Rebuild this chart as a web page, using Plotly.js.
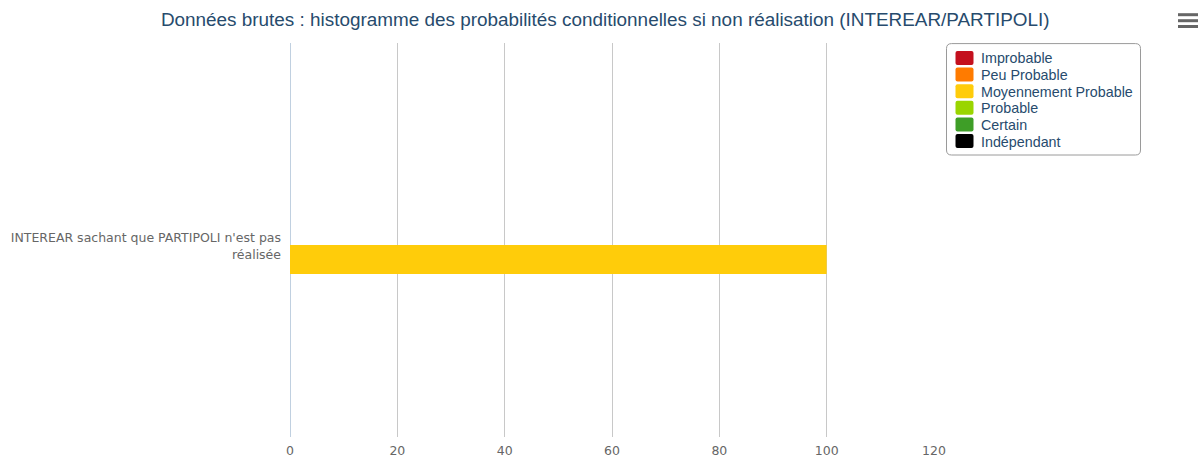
<!DOCTYPE html>
<html>
<head>
<meta charset="utf-8">
<script src="https://cdn.plot.ly/plotly-3.0.1.min.js"></script>
<style>html,body{margin:0;padding:0;background:#fff;}#chart{width:1202px;height:461px;}</style>
</head>
<body>
<div id="chart"></div>
<script>
// ---- data ----
const categories = ["INTEREAR sachant que PARTIPOLI n'est pas<br>réalisée"];
const seriesNames = ["Improbable", "Peu Probable", "Moyennement Probable", "Probable", "Certain", "Indépendant"];
const improbable = [0];
const peuProbable = [0];
const moyennementProbable = [100];
const probable = [0];
const certain = [0];
const independant = [0];
const xTickVals = [0, 20, 40, 60, 80, 100, 120];
const xTickText = ["0", "20", "40", "60", "80", "100", "120"];
const titleText = "Données brutes : histogramme des probabilités conditionnelles si non réalisation (INTEREAR/PARTIPOLI)";

// ---- styles ----
const colors = ["#C4101E", "#FF7B00", "#FFCC0A", "#9AD500", "#3E9E27", "#000000"];
const values = [improbable, peuProbable, moyennementProbable, probable, certain, independant];

const traces = seriesNames.map((name, i) => ({
  type: 'bar',
  orientation: 'h',
  name: name,
  y: categories,
  x: values[i],
  marker: {color: colors[i], line: {width: 0}},
  hoverinfo: 'x+name',
  showlegend: false
}));

const W = 1202, H = 461;
const L = 290, R = 934, T = 43, B = 437;
const pw = R - L, ph = B - T;
const px = v => (v - L) / pw;
const py = v => (B - v) / ph;

const shapes = [
  // rounded legend box
  {type: 'path', xref: 'paper', yref: 'paper', xsizemode: 'pixel', ysizemode: 'pixel',
   xanchor: px(1043.5), yanchor: py(99.3),
   path: 'M -92,-55.7 H 92 Q 97,-55.7 97,-50.7 V 50.7 Q 97,55.7 92,55.7 H -92 Q -97,55.7 -97,50.7 V -50.7 Q -97,-55.7 -92,-55.7 Z',
   line: {color: '#9a9a9a', width: 1}, fillcolor: '#ffffff', layer: 'below'}
];
const annotations = [];
// custom legend: swatches + labels
seriesNames.forEach((name, i) => {
  const cy = 58 + 16.6 * i;
  shapes.push({type: 'path', xref: 'paper', yref: 'paper', xsizemode: 'pixel', ysizemode: 'pixel',
    xanchor: px(964.5), yanchor: py(cy),
    path: 'M -7,-7 H 7 Q 9,-7 9,-5 V 5 Q 9,7 7,7 H -7 Q -9,7 -9,5 V -5 Q -9,-7 -7,-7 Z',
    line: {width: 0}, fillcolor: colors[i]});
  annotations.push({xref: 'paper', yref: 'paper', x: px(978.5), y: py(cy + 0.5), xanchor: 'left', yanchor: 'middle',
    text: name, showarrow: false,
    font: {family: 'Liberation Sans, Arial, sans-serif', size: 14.3, color: '#274b6d'}});
});
// export menu icon
[14.7, 20.7, 26.5].forEach(yy => {
  shapes.push({type: 'line', xref: 'paper', yref: 'paper', xsizemode: 'pixel', xanchor: px(1188),
    x0: -10, x1: 10, y0: py(yy), y1: py(yy), line: {color: '#666666', width: 3}});
});

const layout = {
  width: W, height: H,
  margin: {l: L, r: W - R, t: T, b: H - B, pad: 0},
  paper_bgcolor: '#ffffff', plot_bgcolor: '#ffffff',
  title: {text: titleText, xref: 'container', x: 0.5035, xanchor: 'center', yref: 'container', y: 1 - 19.5 / H, yanchor: 'middle',
          font: {family: 'Liberation Sans, Arial, sans-serif', size: 18.9, color: '#274b6d'}},
  barmode: 'group', bargap: 0.406, bargroupgap: 0.256,
  showlegend: false,
  xaxis: {range: [0, 120], tickvals: xTickVals, ticktext: xTickText, showgrid: true, gridcolor: '#C8C8C8', gridwidth: 1,
          zeroline: true, zerolinecolor: '#C0D0E0', zerolinewidth: 1, showline: false, ticks: '', ticklabelstandoff: 4,
          tickfont: {family: 'DejaVu Sans, sans-serif', size: 12.5, color: '#666666'}, fixedrange: true},
  yaxis: {showgrid: false, zeroline: false, showline: false, ticks: '', ticklabelstandoff: 8, ticklabelshift: 6,
          tickfont: {family: 'DejaVu Sans, sans-serif', size: 12.5, color: '#666666'}, fixedrange: true},
  shapes: shapes,
  annotations: annotations
};

Plotly.newPlot('chart', traces, layout, {displayModeBar: false, staticPlot: true});
</script>
</body>
</html>
